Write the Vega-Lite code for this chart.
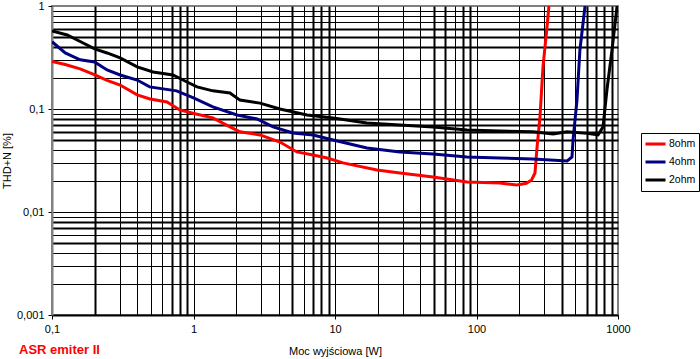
{
  "$schema": "https://vega.github.io/schema/vega-lite/v6.json",
  "width": 566,
  "height": 309,
  "autosize": {"type": "none"},
  "padding": {"left": 52, "top": 6, "right": 82, "bottom": 44},
  "background": "white",
  "config": {
    "font": "Liberation Sans",
    "view": {"stroke": "#808080", "strokeWidth": 2},
    "axis": {
      "gridColor": "black",
      "tickColor": "black",
      "labelColor": "black",
      "titleColor": "black",
      "labelFontSize": 11,
      "titleFontSize": 11,
      "titleFontWeight": "normal",
      "labelFont": "Liberation Sans",
      "titleFont": "Liberation Sans",
      "labelOverlap": false,
      "labelFlush": false,
      "tickSize": 4
    }
  },
  "title": {
    "text": "ASR emiter II",
    "orient": "bottom",
    "anchor": "start",
    "frame": "group",
    "color": "#ff0000",
    "font": "Liberation Sans",
    "fontSize": 13,
    "fontWeight": "bold",
    "dx": -33,
    "offset": -12
  },
  "data": {
    "values": [
      {"x": 0.1, "y": 0.29, "s": "8ohm"},
      {"x": 0.124, "y": 0.27, "s": "8ohm"},
      {"x": 0.158, "y": 0.245, "s": "8ohm"},
      {"x": 0.201, "y": 0.214, "s": "8ohm"},
      {"x": 0.245, "y": 0.19, "s": "8ohm"},
      {"x": 0.303, "y": 0.171, "s": "8ohm"},
      {"x": 0.4, "y": 0.137, "s": "8ohm"},
      {"x": 0.493, "y": 0.125, "s": "8ohm"},
      {"x": 0.65, "y": 0.117, "s": "8ohm"},
      {"x": 0.8, "y": 0.098, "s": "8ohm"},
      {"x": 0.99, "y": 0.091, "s": "8ohm"},
      {"x": 1.37, "y": 0.082, "s": "8ohm"},
      {"x": 1.81, "y": 0.067, "s": "8ohm"},
      {"x": 2.13, "y": 0.06, "s": "8ohm"},
      {"x": 2.95, "y": 0.056, "s": "8ohm"},
      {"x": 4.08, "y": 0.0478, "s": "8ohm"},
      {"x": 5.38, "y": 0.0383, "s": "8ohm"},
      {"x": 7.0, "y": 0.0357, "s": "8ohm"},
      {"x": 8.8, "y": 0.0334, "s": "8ohm"},
      {"x": 11.4, "y": 0.03, "s": "8ohm"},
      {"x": 19.8, "y": 0.0256, "s": "8ohm"},
      {"x": 28.8, "y": 0.0239, "s": "8ohm"},
      {"x": 49.3, "y": 0.0219, "s": "8ohm"},
      {"x": 85.7, "y": 0.0196, "s": "8ohm"},
      {"x": 146, "y": 0.0191, "s": "8ohm"},
      {"x": 193, "y": 0.0183, "s": "8ohm"},
      {"x": 225, "y": 0.019, "s": "8ohm"},
      {"x": 245, "y": 0.0205, "s": "8ohm"},
      {"x": 259, "y": 0.0239, "s": "8ohm"},
      {"x": 268, "y": 0.0428, "s": "8ohm"},
      {"x": 281, "y": 0.084, "s": "8ohm"},
      {"x": 295, "y": 0.256, "s": "8ohm"},
      {"x": 315, "y": 0.625, "s": "8ohm"},
      {"x": 325, "y": 1.0, "s": "8ohm"},
      {"x": 0.1, "y": 0.45, "s": "4ohm"},
      {"x": 0.124, "y": 0.35, "s": "4ohm"},
      {"x": 0.158, "y": 0.3, "s": "4ohm"},
      {"x": 0.2, "y": 0.286, "s": "4ohm"},
      {"x": 0.245, "y": 0.239, "s": "4ohm"},
      {"x": 0.303, "y": 0.214, "s": "4ohm"},
      {"x": 0.4, "y": 0.191, "s": "4ohm"},
      {"x": 0.49, "y": 0.164, "s": "4ohm"},
      {"x": 0.76, "y": 0.15, "s": "4ohm"},
      {"x": 1.0, "y": 0.128, "s": "4ohm"},
      {"x": 1.37, "y": 0.105, "s": "4ohm"},
      {"x": 2.03, "y": 0.0875, "s": "4ohm"},
      {"x": 2.81, "y": 0.08, "s": "4ohm"},
      {"x": 3.65, "y": 0.067, "s": "4ohm"},
      {"x": 5.05, "y": 0.0585, "s": "4ohm"},
      {"x": 7.0, "y": 0.056, "s": "4ohm"},
      {"x": 9.7, "y": 0.05, "s": "4ohm"},
      {"x": 16.8, "y": 0.0418, "s": "4ohm"},
      {"x": 28.8, "y": 0.0383, "s": "4ohm"},
      {"x": 49.3, "y": 0.0366, "s": "4ohm"},
      {"x": 85.7, "y": 0.0342, "s": "4ohm"},
      {"x": 146, "y": 0.0334, "s": "4ohm"},
      {"x": 250, "y": 0.0327, "s": "4ohm"},
      {"x": 437, "y": 0.0313, "s": "4ohm"},
      {"x": 473, "y": 0.0342, "s": "4ohm"},
      {"x": 481, "y": 0.05, "s": "4ohm"},
      {"x": 513, "y": 0.122, "s": "4ohm"},
      {"x": 538, "y": 0.374, "s": "4ohm"},
      {"x": 585, "y": 1.0, "s": "4ohm"},
      {"x": 0.1, "y": 0.572, "s": "2ohm"},
      {"x": 0.128, "y": 0.523, "s": "2ohm"},
      {"x": 0.166, "y": 0.437, "s": "2ohm"},
      {"x": 0.2, "y": 0.383, "s": "2ohm"},
      {"x": 0.245, "y": 0.35, "s": "2ohm"},
      {"x": 0.303, "y": 0.313, "s": "2ohm"},
      {"x": 0.4, "y": 0.256, "s": "2ohm"},
      {"x": 0.518, "y": 0.229, "s": "2ohm"},
      {"x": 0.716, "y": 0.214, "s": "2ohm"},
      {"x": 0.9, "y": 0.183, "s": "2ohm"},
      {"x": 1.06, "y": 0.164, "s": "2ohm"},
      {"x": 1.37, "y": 0.15, "s": "2ohm"},
      {"x": 1.81, "y": 0.143, "s": "2ohm"},
      {"x": 2.13, "y": 0.122, "s": "2ohm"},
      {"x": 2.95, "y": 0.114, "s": "2ohm"},
      {"x": 4.08, "y": 0.1, "s": "2ohm"},
      {"x": 6.34, "y": 0.0875, "s": "2ohm"},
      {"x": 9.7, "y": 0.0818, "s": "2ohm"},
      {"x": 16.8, "y": 0.073, "s": "2ohm"},
      {"x": 28.8, "y": 0.07, "s": "2ohm"},
      {"x": 49.3, "y": 0.067, "s": "2ohm"},
      {"x": 85.7, "y": 0.0625, "s": "2ohm"},
      {"x": 146, "y": 0.061, "s": "2ohm"},
      {"x": 250, "y": 0.06, "s": "2ohm"},
      {"x": 348, "y": 0.0572, "s": "2ohm"},
      {"x": 437, "y": 0.06, "s": "2ohm"},
      {"x": 604, "y": 0.058, "s": "2ohm"},
      {"x": 723, "y": 0.056, "s": "2ohm"},
      {"x": 784, "y": 0.067, "s": "2ohm"},
      {"x": 835, "y": 0.153, "s": "2ohm"},
      {"x": 907, "y": 0.374, "s": "2ohm"},
      {"x": 985, "y": 1.0, "s": "2ohm"}
    ]
  },
  "mark": {"type": "line", "strokeWidth": 3, "clip": true},
  "encoding": {
    "x": {
      "field": "x",
      "type": "quantitative",
      "scale": {"type": "log", "domain": [0.1, 1000], "nice": false},
      "axis": {
        "title": "Moc wyjściowa [W]",
        "titlePadding": 11,
        "values": [0.1, 0.2, 0.3, 0.4, 0.5, 0.6, 0.7, 0.8, 0.9, 1, 2, 3, 4, 5, 6, 7, 8, 9, 10, 20, 30, 40, 50, 60, 70, 80, 90, 100, 200, 300, 400, 500, 600, 700, 800, 900, 1000],
        "labelExpr": "indexof([0.1, 1, 10, 100, 1000], datum.value) >= 0 ? replace(toString(datum.value), '.', ',') : ''",
        "labelPadding": 4,
        "domainColor": "black",
        "domainWidth": 2,
        "tickOpacity": {"condition": {"test": "indexof([0.1, 1, 10, 100, 1000], datum.value) >= 0", "value": 1}, "value": 0},
        "gridOpacity": {"condition": {"test": "datum.value == 1000", "value": 0}, "value": 1},
        "gridWidth": {"condition": {"test": "indexof([0.2, 0.7, 0.8, 0.9, 5, 7, 8, 9, 50, 60, 80, 90, 400, 600, 700, 800, 900], datum.value) >= 0", "value": 2}, "value": 1}
      }
    },
    "y": {
      "field": "y",
      "type": "quantitative",
      "scale": {"type": "log", "domain": [0.001, 1], "nice": false},
      "axis": {
        "title": "THD+N [%]",
        "titleX": -45,
        "titleY": 154.5,
        "titleAngle": 270,
        "titleAlign": "center",
        "titleBaseline": "middle",
        "values": [0.001, 0.002, 0.003, 0.004, 0.005, 0.006, 0.007, 0.008, 0.009, 0.01, 0.02, 0.03, 0.04, 0.05, 0.06, 0.07, 0.08, 0.09, 0.1, 0.2, 0.3, 0.4, 0.5, 0.6, 0.7, 0.8, 0.9, 1],
        "labelExpr": "indexof([0.001, 0.01, 0.1, 1], datum.value) >= 0 ? replace(toString(datum.value), '.', ',') : ''",
        "labelPadding": 4,
        "domainColor": "#808080",
        "domainWidth": 2,
        "tickOpacity": {"condition": {"test": "indexof([0.001, 0.01, 0.1, 1], datum.value) >= 0", "value": 1}, "value": 0},
        "gridOpacity": {"condition": {"test": "datum.value == 1", "value": 0}, "value": 1},
        "gridWidth": {"condition": {"test": "indexof([0.6, 0.5, 0.4, 0.08, 0.07, 0.06, 0.05, 0.008, 0.007, 0.005], datum.value) >= 0", "value": 2}, "value": 1}
      }
    },
    "color": {
      "field": "s",
      "type": "nominal",
      "scale": {"domain": ["8ohm", "4ohm", "2ohm"], "range": ["#ff0000", "#000080", "#000000"]},
      "legend": {
        "title": null,
        "orient": "none",
        "legendX": 589,
        "legendY": 127,
        "symbolType": "stroke",
        "symbolStrokeWidth": 3,
        "symbolSize": 400,
        "clipHeight": 16,
        "rowPadding": 2,
        "labelFontSize": 10.5,
        "labelColor": "black",
        "labelFont": "Liberation Sans",
        "labelOffset": 2,
        "strokeColor": "black",
        "fillColor": "white",
        "padding": 3
      }
    }
  }
}
